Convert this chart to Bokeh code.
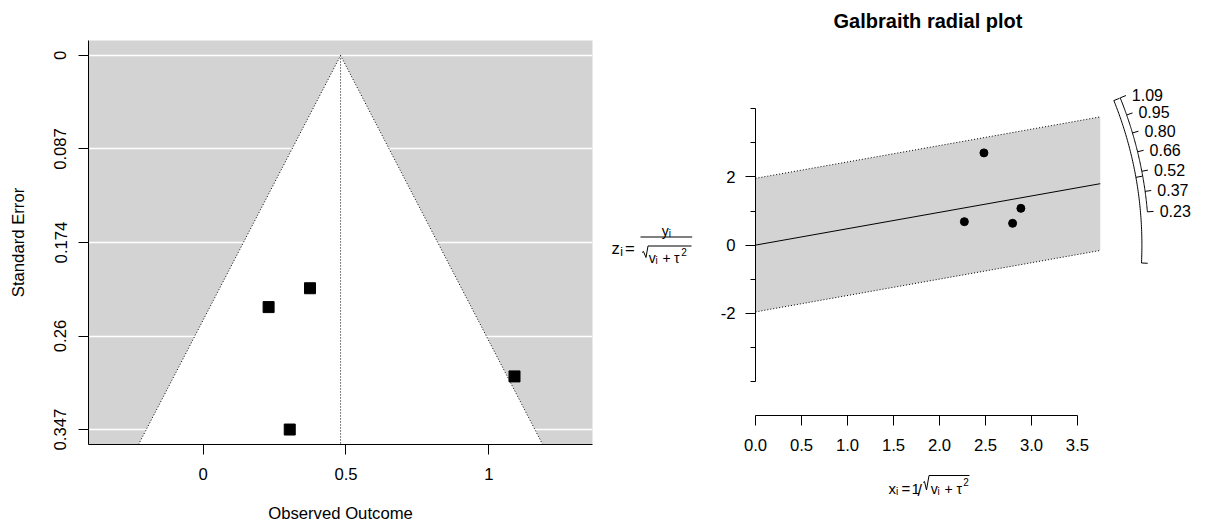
import numpy as np
from bokeh.plotting import figure
from bokeh.layouts import row, column
from bokeh.models import Range1d, FixedTicker, CustomJSTickFormatter, Label
from bokeh.core.properties import value
from bokeh.embed import file_html
from bokeh.resources import INLINE

FONT = "Liberation Sans"
FS = "16.7px"
GREY = "#D3D3D3"

# ---- study data: observed outcomes and their standard errors ----
yi = [0.229, 0.374, 0.303, 1.090]
sei = [0.2335, 0.216, 0.3471, 0.2978]

# ---- random-effects fit ----
tau2 = 0.0735          # between-study variance
est = 0.481            # pooled estimate
ci_lb, ci_ub = -0.125, 1.089
zcrit = 1.96

# ---- tick labels ----
se_tick_labels = ["0", "0.087", "0.174", "0.26", "0.347"]
outcome_ticks = [0, 0.5, 1]
outcome_tick_labels = ["0", "0.5", "1"]
radial_x_ticks = [0, 0.5, 1.0, 1.5, 2.0, 2.5, 3.0, 3.5]
radial_x_labels = ["0.0", "0.5", "1.0", "1.5", "2.0", "2.5", "3.0", "3.5"]
radial_z_ticks = [-2, 0, 2]
radial_z_labels = ["-2", "0", "2"]
radial_z_minor = [-4, -3, -2, -1, 0, 1, 2, 3, 4]
arc_labels = ["0.23", "0.37", "0.52", "0.66", "0.80", "0.95", "1.09"]


def label_formatter(labels):
    return CustomJSTickFormatter(args=dict(labels=labels), code="return labels[index];")


def style_axis(ax):
    ax.axis_line_color = "black"
    ax.major_tick_line_color = "black"
    ax.minor_tick_line_color = "black"
    ax.major_tick_in = 0
    ax.minor_tick_in = 0
    ax.major_tick_out = 10
    ax.minor_tick_out = 0
    ax.major_label_text_font = FONT
    ax.major_label_text_font_size = FS
    ax.major_label_text_color = "black"
    ax.axis_label_text_font = FONT
    ax.axis_label_text_font_size = FS
    ax.axis_label_text_font_style = "normal"
    ax.axis_label_text_color = "black"


# ================= funnel plot =================
se_max = max(sei)
se_ticks = [float(v) for v in np.linspace(0, se_max, 5)]
pad = 0.04 * se_max
se_lo, se_hi = -pad, se_max + pad

p1 = figure(width=600, height=528, x_range=Range1d(-0.4016, 1.3631),
            y_range=Range1d(se_hi, se_lo), output_backend="svg",
            toolbar_location=None, min_border_left=88, min_border_right=8,
            min_border_top=40, min_border_bottom=84)
p1.background_fill_color = GREY
p1.border_fill_color = "white"
p1.outline_line_color = None
p1.xgrid.visible = False
p1.ygrid.grid_line_color = "white"
p1.ygrid.grid_line_width = 1.5

# pseudo confidence region
half = zcrit * se_hi
p1.patch([est, est - half, est + half], [0, se_hi, se_hi],
         fill_color="white", line_color=None)
p1.line([est - half, est, est + half], [se_hi, 0, se_hi],
        line_color="black", line_width=1, line_dash="1 2")
p1.line([est, est], [0, se_hi], line_color="black", line_width=1, line_dash="1 2")
p1.scatter(yi, sei, marker="square", size=11, fill_color="black", line_color="black")

xa = p1.xaxis[0]
ya = p1.yaxis[0]
style_axis(xa)
style_axis(ya)
xa.ticker = FixedTicker(ticks=outcome_ticks)
xa.formatter = label_formatter(outcome_tick_labels)
xa.axis_label = "Observed Outcome"
xa.major_label_standoff = 13
xa.axis_label_standoff = 21
ya.ticker = FixedTicker(ticks=se_ticks)
ya.formatter = label_formatter(se_tick_labels)
ya.major_label_orientation = "vertical"
ya.axis_label = "Standard Error"
ya.major_label_standoff = 12
ya.axis_label_standoff = 24


def put(fig, x, y, s, size, align="left"):
    fig.add_layout(Label(x=x, y=y, text=s, text_font=FONT, text_font_size=f"{size}px",
                         text_align=align, text_baseline="alphabetic",
                         text_color="black"))


# ================= z-axis label panel (page-pixel coordinates) =================
pz = figure(width=100, height=528, x_range=Range1d(0, 100), y_range=Range1d(444, 40),
            output_backend="svg", toolbar_location=None, min_border_left=0,
            min_border_right=0, min_border_top=40, min_border_bottom=84,
            x_axis_type=None, y_axis_type=None)
pz.outline_line_color = None

put(pz, 11.0, 247.5, "z", 16.7)
put(pz, 19.8, 251.0, "i", 12)
put(pz, 24.5, 247.5, "=", 16.7)
pz.line([40, 91.7], [236.5, 236.5], line_color="black", line_width=1)
put(pz, 61.3, 230.0, "y", 14)
put(pz, 68.3, 233.0, "i", 10)
pz.line([41.5, 43.0, 45.5, 47.5, 91.0], [252, 251, 257, 245.5, 245.5],
        line_color="black", line_width=1)
put(pz, 48.3, 257.0, "v", 14)
put(pz, 55.0, 259.5, "i", 10)
put(pz, 66.0, 257.0, "+", 14, align="center")
put(pz, 73.5, 257.0, "τ", 14)
put(pz, 80.7, 251.5, "2", 10)

# ================= radial plot =================
xi = [1 / np.sqrt(s ** 2 + tau2) for s in sei]
zi = [y * x for y, x in zip(yi, xi)]
x_axis_max = 1.3 * max(xi)
ci_xpos = 1.12 * x_axis_max
ya_xpos = 1.14 * x_axis_max
x_span = 1.2 * x_axis_max
z_lo = min(-5, 1.1 * min(zi), 1.1 * ci_lb * ci_xpos, 1.1 * min(yi) * ci_xpos)
z_hi = max(5, 1.1 * max(zi), 1.1 * ci_ub * ci_xpos, 1.1 * max(yi) * ci_xpos)

BORDER_L, BORDER_R = 55, 110
FRAME_W, FRAME_H = 345, 342
BORDER_T = 73
p2 = figure(width=BORDER_L + FRAME_W + BORDER_R, height=462, x_range=Range1d(0, x_axis_max),
            y_range=Range1d(z_lo, z_hi), output_backend="svg", toolbar_location=None,
            min_border_left=BORDER_L, min_border_right=BORDER_R,
            min_border_top=BORDER_T, min_border_bottom=462 - BORDER_T - FRAME_H)
p2.outline_line_color = None
p2.grid.visible = False
px_per_z = FRAME_H / (z_hi - z_lo)
asp = (FRAME_W / x_axis_max) / px_per_z

p2.patch([0, x_axis_max, x_axis_max, 0],
         [zcrit, zcrit + x_axis_max * est, -zcrit + x_axis_max * est, -zcrit],
         fill_color=GREY, line_color=None)
p2.line([0, x_axis_max], [zcrit, zcrit + x_axis_max * est], line_color="black", line_dash="1 2")
p2.line([0, x_axis_max], [-zcrit, -zcrit + x_axis_max * est], line_color="black", line_dash="1 2")
p2.line([0, x_axis_max], [0, x_axis_max * est], line_color="black", line_width=1)
p2.scatter(xi, zi, marker="circle", size=8, fill_color="black", line_color="black")


def arc_xy(vals, radius):
    vals = np.asarray(vals, dtype=float)
    xs = radius / np.sqrt(1 + (vals / asp) ** 2)
    return xs, xs * vals


# outcome arc with ticks and labels
a = np.linspace(min(yi), max(yi), 100)
ax_, az_ = arc_xy(a, ya_xpos)
p2.line(ax_, az_, line_color="black", level="overlay")
at = np.linspace(min(yi), max(yi), len(arc_labels))
x0, z0 = arc_xy(at, ya_xpos)
x1, z1 = arc_xy(at, ya_xpos + 0.015 * x_span)
p2.segment(x0, z0, x1, z1, line_color="black", level="overlay")
xl, zl = arc_xy(at, ya_xpos + 0.02 * x_span)
p2.text(xl, zl, text=arc_labels, text_font=value(FONT), text_font_size="16px",
        text_align="left", text_baseline="middle", x_offset=4, text_color="black",
        level="overlay")

# confidence interval arc
c = np.linspace(ci_lb, ci_ub, 100)
cx, cz = arc_xy(c, ci_xpos)
p2.line(cx, cz, line_color="black", level="overlay")
ct = [ci_lb, est, ci_ub]
cx0, cz0 = arc_xy(ct, ci_xpos)
cx1, cz1 = arc_xy(ct, ci_xpos + 0.015 * x_span)
p2.segment(cx0, cz0, cx1, cz1, line_color="black", level="overlay")

rx = p2.xaxis[0]
rz = p2.yaxis[0]
style_axis(rx)
style_axis(rz)
rx.ticker = FixedTicker(ticks=radial_x_ticks)
rx.formatter = label_formatter(radial_x_labels)
rx.bounds = (0, 3.5)
rx.major_label_standoff = 13
rz.ticker = FixedTicker(ticks=radial_z_ticks, minor_ticks=radial_z_minor)
rz.formatter = label_formatter(radial_z_labels)
rz.bounds = (-4, 4)
rz.minor_tick_out = 5
rz.major_label_standoff = 10

# title, 53 px above the top of the plotting region
p2.text([x_axis_max / 2], [z_hi + 53 / px_per_z], text=["Galbraith radial plot"],
        text_font=value(FONT), text_font_size="20px", text_font_style="bold",
        text_align="center", text_baseline="middle", text_color="black", level="overlay")

# ================= x-axis label panel (page-pixel coordinates, offset 700/462) ===========
px = figure(width=BORDER_L + FRAME_W + BORDER_R, height=66,
            x_range=Range1d(BORDER_L, BORDER_L + FRAME_W), y_range=Range1d(66, 0),
            output_backend="svg", toolbar_location=None,
            min_border_left=BORDER_L, min_border_right=BORDER_R,
            min_border_top=0, min_border_bottom=0,
            x_axis_type=None, y_axis_type=None)
px.outline_line_color = None
put(px, 188.0, 26.3, "x", 15)
put(px, 195.5, 29.0, "i", 10)
put(px, 201.0, 26.3, "=", 15)
put(px, 211.0, 26.3, "1", 15)
put(px, 217.0, 27.5, "/", 16)
px.line([222.7, 224.0, 226.0, 228.5, 269.0], [20, 19, 27.5, 13, 13],
        line_color="black", line_width=1)
put(px, 230.3, 26.3, "v", 14)
put(px, 237.0, 29.0, "i", 10)
put(px, 244.0, 26.3, "+", 14)
put(px, 256.0, 26.3, "τ", 14)
put(px, 262.7, 19.7, "2", 10)

layout = row(p1, pz, column(p2, px))
open("out.html", "w").write(file_html(layout, INLINE))
